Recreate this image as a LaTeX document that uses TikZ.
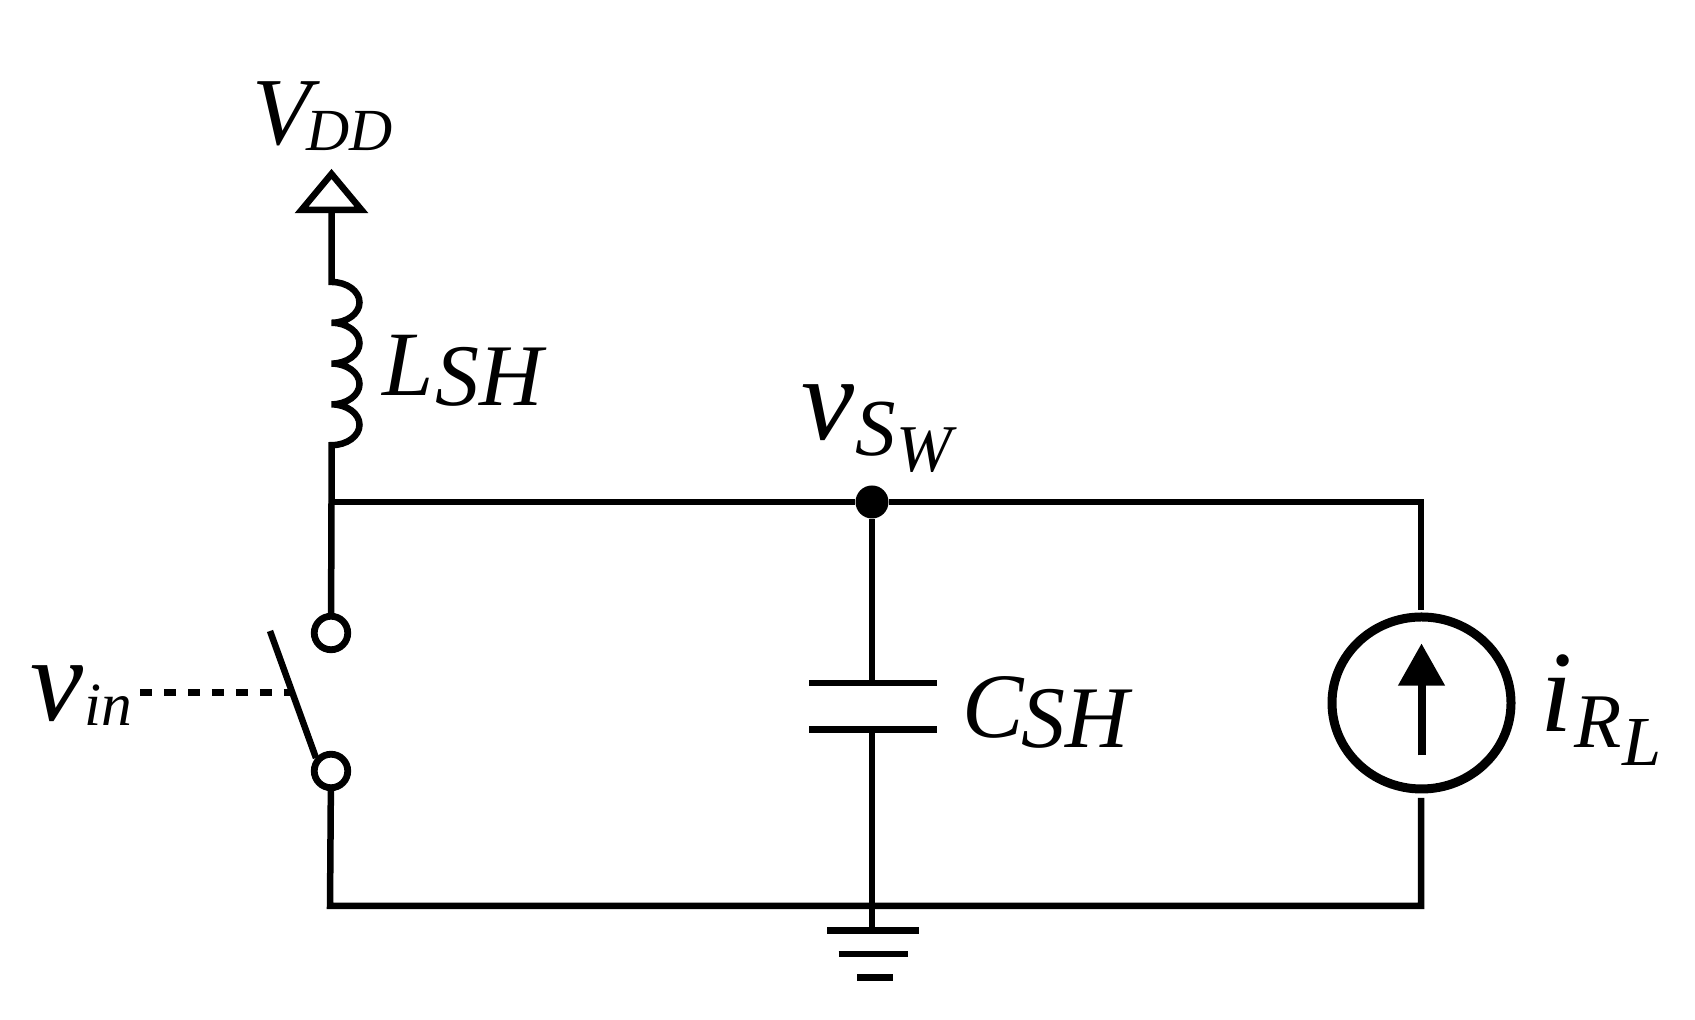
\documentclass[tikz,border=0pt]{standalone}
\usepackage{fontspec}
\setmainfont{Liberation Serif}[ItalicFont={Liberation Serif Italic}]
\usetikzlibrary{arrows.meta, shapes.geometric}
\newcommand{\fs}[2]{{\fontsize{#1}{#1}\selectfont\itshape #2}}
\newcommand{\lowered}[2]{\raisebox{-#1}{#2}}
\tikzset{
  wire/.style={line width=.065cm},
  label/.style={anchor=base west, inner sep=0pt},
  term/.style={circle, draw, line width=.068cm, fill=white, minimum size=.335cm, inner sep=0pt},
  dotnode/.style={circle, fill=black, minimum size=.33cm, inner sep=0pt},
  source/.style={ellipse, draw, line width=.09cm, minimum width=1.79cm, minimum height=1.72cm, inner sep=0pt}
}
\begin{document}
\begin{tikzpicture}
\useasboundingbox (0,0) rectangle (16.95,10.2);
% supply and inductor
\coordinate (vddtip) at (3.315,8.46);
\coordinate (vddl) at (3.015,8.10);
\coordinate (vddr) at (3.615,8.10);
\coordinate (vddbase) at (3.315,8.10);
\coordinate (lsh) at (3.315,7.38);
\coordinate (lshend) at (3.315,5.18);
\draw[wire, miter limit=10] (vddtip) -- (vddl) -- (vddr) -- cycle;
\draw[wire] (vddbase) -- (lsh)
  arc[start angle=90, end angle=-90, x radius=.28, y radius=.204]
  arc[start angle=90, end angle=-90, x radius=.28, y radius=.204]
  arc[start angle=90, end angle=-90, x radius=.28, y radius=.204]
  arc[start angle=90, end angle=-90, x radius=.28, y radius=.204]
  -- (lshend);
% switch
\node[term] (swtop) at (3.31,3.87) {};
\node[term] (swbot) at (3.31,2.49) {};
\coordinate (lever) at (2.70,3.89);
\coordinate (leverbot) at (3.16,2.62);
\coordinate (ctrl) at (1.40,3.273);
\coordinate (ctrlend) at (2.93,3.273);
\draw[wire] (lshend) -- (swtop);
\draw[wire] (lever) -- (leverbot);
\draw[wire, dash pattern=on .12cm off .12cm] (ctrl) -- (ctrlend);
% rails
\node[dotnode] (sw) at (8.72,5.18) {};
\node[source] (src) at (14.215,3.17) {};
\coordinate (railtr) at (14.21,5.18);
\coordinate (railbr) at (14.21,1.14);
\coordinate (railbl) at (3.30,1.14);
\coordinate (srctop) at (14.21,4.10);
\coordinate (srcbot) at (14.21,2.22);
\draw[wire] (lshend) -- (sw) -- (railtr) -- (srctop);
\draw[wire] (srcbot) -- (railbr) -- (railbl) -- (swbot);
% arrow in source
\coordinate (arrtail) at (14.215,2.645);
\coordinate (arrtip) at (14.215,3.766);
\draw[line width=.08cm, -{Triangle[length=.423cm, width=.45cm]}] (arrtail) -- (arrtip);
% capacitor
\coordinate (capt) at (8.72,3.37);
\coordinate (capb) at (8.72,2.905);
\coordinate (captl) at (8.09,3.37);
\coordinate (captr) at (9.37,3.37);
\coordinate (capbl) at (8.09,2.905);
\coordinate (capbr) at (9.37,2.905);
\draw[wire] (sw) -- (capt);
\draw[wire] (captl) -- (captr);
\draw[wire] (capbl) -- (capbr);
% ground
\coordinate (gnd) at (8.72,.895);
\coordinate (gnda) at (8.27,.895);
\coordinate (gndb) at (9.19,.895);
\coordinate (gndc) at (8.385,.66);
\coordinate (gndd) at (9.08,.66);
\coordinate (gnde) at (8.57,.425);
\coordinate (gndf) at (8.93,.425);
\draw[wire] (capb) -- (gnd);
\draw[wire] (gnda) -- (gndb);
\draw[wire] (gndc) -- (gndd);
\draw[wire] (gnde) -- (gndf);
% labels
\node[label] (vddlab) at (2.52,8.75) {\fs{27.3pt}{V}\kern-.05cm\lowered{.06cm}{\fs{17pt}{DD}}};
\node[label] (lshlab) at (3.815,6.243) {\fs{26.2pt}{L}\kern.02cm\lowered{.1cm}{\fs{25pt}{SH}}};
\node[label] (vinlab) at (.295,2.999) {\fs{34pt}{v}\kern.01cm\lowered{.05cm}{\fs{17.5pt}{in}}};
\node[label] (swlab) at (8.01,5.80) {\fs{34pt}{v}\kern.01cm\lowered{.16cm}{\fs{23pt}{S}}\lowered{.32cm}{\fs{19pt}{W}}};
\node[label] (cshlab) at (9.62,2.82) {\fs{26.2pt}{C}\kern-.03cm\lowered{.1cm}{\fs{25pt}{SH}}};
\node[label] (irllab) at (15.40,2.88) {\fs{33pt}{i}\kern.02cm\lowered{.16cm}{\fs{22pt}{R}}\lowered{.34cm}{\fs{20pt}{L}}};
\end{tikzpicture}
\end{document}
